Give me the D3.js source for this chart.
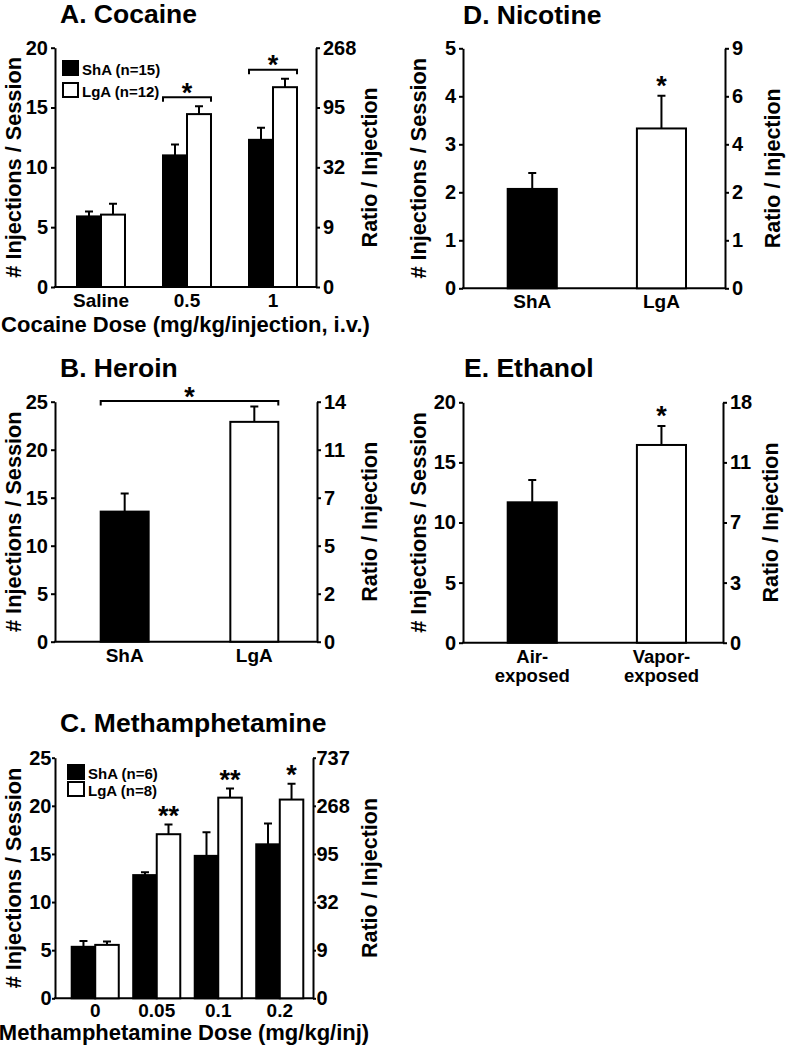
<!DOCTYPE html>
<html><head><meta charset="utf-8">
<script src="https://cdn.jsdelivr.net/npm/d3@7"></script>
<style>
body{margin:0;background:#fff;}
svg text{font-family:"Liberation Sans",Arial,Helvetica,sans-serif;font-weight:bold;fill:#000;}
</style></head><body>
<svg id="chart" width="792" height="1049"></svg>
<script>
// ---------- DATA ----------
// A. Cocaine
const cocaineDoses = ["Saline", "0.5", "1"];
const cocaineShA = [5.9, 11.0, 12.3];
const cocaineShAErr = [0.4, 0.9, 1.0];
const cocaineLgA = [6.05, 14.45, 16.7];
const cocaineLgAErr = [0.9, 0.65, 0.7];
const cocaineSig = ["", "*", "*"];
const cocaineTicks = [0, 5, 10, 15, 20];
const cocaineRatioTicks = ["0", "9", "32", "95", "268"];
const cocaineLegend = ["ShA (n=15)", "LgA (n=12)"];

// B. Heroin
const heroinGroups = ["ShA", "LgA"];
const heroinMeans = [13.55, 22.9];
const heroinErr = [1.9, 1.6];
const heroinSig = "*";
const heroinTicks = [0, 5, 10, 15, 20, 25];
const heroinRatioTicks = ["0", "2", "5", "7", "11", "14"];

// C. Methamphetamine
const methDoses = ["0", "0.05", "0.1", "0.2"];
const methShA = [5.35, 12.8, 14.8, 16.0];
const methShAErr = [0.6, 0.3, 2.45, 2.15];
const methLgA = [5.55, 17.05, 20.85, 20.65];
const methLgAErr = [0.35, 1.0, 0.95, 1.65];
const methSig = ["", "**", "**", "*"];
const methTicks = [0, 5, 10, 15, 20, 25];
const methRatioTicks = ["0", "9", "32", "95", "268", "737"];
const methLegend = ["ShA (n=6)", "LgA (n=8)"];

// D. Nicotine
const nicotineGroups = ["ShA", "LgA"];
const nicotineMeans = [2.07, 3.33];
const nicotineErr = [0.33, 0.68];
const nicotineSig = ["", "*"];
const nicotineTicks = [0, 1, 2, 3, 4, 5];
const nicotineRatioTicks = ["0", "1", "2", "4", "6", "9"];

// E. Ethanol
const ethanolGroups = ["Air-\nexposed", "Vapor-\nexposed"];
const ethanolMeans = [11.68, 16.45];
const ethanolErr = [1.85, 1.58];
const ethanolSig = ["", "*"];
const ethanolTicks = [0, 5, 10, 15, 20];
const ethanolRatioTicks = ["0", "3", "7", "11", "18"];

const groupFills = ["#000", "#fff"];

// ---------- DRAWING ----------
const svg = d3.select("#chart");
svg.append("rect").attr("width", 792).attr("height", 1049).attr("fill", "#fff");

const LW = 2;
const STAR_SIZE = "27px";
const STAR_DY = 15.5;

function drawPanel(p) {
  const g = svg.append("g");
  const y = d3.scaleLinear().domain([0, d3.max(p.ticks)]).range([p.yBot, p.yTop]);
  const xc = d3.scaleBand().domain(p.categories).range(p.barRange).paddingInner(p.padInner).paddingOuter(0);
  const xs = d3.scaleBand().domain(d3.range(p.series.length)).range([0, xc.bandwidth()]);
  const tSize = p.tickSize != null ? p.tickSize : 4;
  const tPad = p.tickPad != null ? p.tickPad : 3;

  // title
  g.append("text").attr("x", p.titleX).attr("y", p.titleY)
    .style("font-size", "26.5px").text(p.title);

  // left axis
  const la = g.append("g").attr("transform", `translate(${p.x0},0)`)
    .call(d3.axisLeft(y).tickValues(p.ticks).tickFormat(d3.format("d"))
      .tickSize(tSize).tickSizeOuter(0).tickPadding(tPad));
  // right axis
  const ra = g.append("g").attr("transform", `translate(${p.x1},0)`)
    .call(d3.axisRight(y).tickValues(p.ticks).tickFormat((d, i) => p.ratioTicks[i])
      .tickSize(tSize).tickSizeOuter(0).tickPadding(tPad));
  [la, ra].forEach(a => {
    a.select(".domain").attr("stroke", "#000").attr("stroke-width", LW);
    a.selectAll(".tick line").attr("stroke", "#000").attr("stroke-width", LW);
    a.selectAll("text").style("font-size", "20px").attr("fill", "#000");
  });

  // bottom baseline
  g.append("line").attr("x1", p.x0 - 1).attr("x2", p.x1 + 1)
    .attr("y1", y(0)).attr("y2", y(0))
    .attr("stroke", "#000").attr("stroke-width", LW);

  // category labels
  const ba = g.append("g").attr("transform", `translate(0,${y(0)})`)
    .call(d3.axisBottom(xc).tickSize(0).tickPadding(p.catPad));
  ba.select(".domain").remove();
  ba.selectAll("text").style("font-size", "19px").attr("fill", "#000");
  ba.selectAll(".tick").each(function (d) {
    const parts = d.split("\n");
    if (parts.length > 1) {
      const tk = d3.select(this);
      const t0 = tk.select("text");
      const baseY = +t0.attr("y") + 13.5;
      t0.remove();
      parts.forEach((s, k) => tk.append("text")
        .attr("x", 0).attr("y", baseY + k * p.lineGap)
        .attr("text-anchor", "middle").style("font-size", "18.5px").text(s));
    }
  });

  // bars + error bars
  p.series.forEach((s, si) => {
    const bx = (c) => xc(c) + xs(si);
    const fill = (c, i) => Array.isArray(s.fill) ? s.fill[i] : s.fill;
    g.selectAll(null).data(p.categories).enter().append("rect")
      .attr("x", c => bx(c)).attr("width", xs.bandwidth())
      .attr("y", (c, i) => y(s.values[i]))
      .attr("height", (c, i) => y(0) - y(s.values[i]))
      .attr("fill", fill).attr("stroke", "#000").attr("stroke-width", LW);
    g.selectAll(null).data(p.categories).enter().append("path")
      .attr("d", (c, i) => {
        const cx = bx(c) + xs.bandwidth() / 2;
        const t = y(s.values[i] + s.errs[i]), b = y(s.values[i]);
        return `M${cx},${b}V${t}M${cx - 4},${t}H${cx + 4}`;
      })
      .attr("fill", "none").attr("stroke", "#000").attr("stroke-width", LW);
  });

  // significance
  const topOf = (i) => d3.max(p.series, s => s.values[i] + s.errs[i]);
  const star = (x, cy, txt) => g.append("text").attr("x", x).attr("y", cy + STAR_DY)
    .attr("text-anchor", "middle").style("font-size", STAR_SIZE).text(txt);
  if (p.sigType === "pair") {
    p.categories.forEach((c, i) => {
      if (!p.sig[i]) return;
      const by = y(topOf(i)) - p.sigGap;
      const xa = xc(c), xb = xc(c) + xc.bandwidth();
      g.append("path").attr("d", `M${xa},${by + 4.5}V${by}H${xb}V${by + 4.5}`)
        .attr("fill", "none").attr("stroke", "#000").attr("stroke-width", LW);
      star((xa + xb) / 2, by - 11, p.sig[i]);
    });
  } else if (p.sigType === "all") {
    const by = y(d3.max(p.categories, (c, i) => topOf(i))) - p.sigGap;
    const xa = xc(p.categories[0]), xb = xc(p.categories[p.categories.length - 1]) + xc.bandwidth();
    g.append("path").attr("d", `M${xa},${by + 4.5}V${by}H${xb}V${by + 4.5}`)
      .attr("fill", "none").attr("stroke", "#000").attr("stroke-width", LW);
    star((xa + xb) / 2, by - 11, p.sig);
  } else if (p.sigType === "bar") {
    const si = p.series.length - 1, s = p.series[si];
    p.categories.forEach((c, i) => {
      if (!p.sig[i]) return;
      const cx = xc(c) + xs(si) + xs.bandwidth() / 2;
      star(cx, y(s.values[i] + s.errs[i]) - p.sigGap, p.sig[i]);
    });
  }

  // axis titles
  const midY = (p.yTop + p.yBot) / 2;
  g.append("text").attr("transform", `translate(${p.leftLabelX},${midY}) rotate(-90)`)
    .attr("text-anchor", "middle").style("font-size", "21.7px").text("# Injections / Session");
  g.append("text").attr("transform", `translate(${p.rightLabelX},${midY}) rotate(-90)`)
    .attr("text-anchor", "middle").style("font-size", "21.5px").text("Ratio / Injection");
  if (p.xTitle) {
    g.append("text").attr("x", (p.x0 + p.x1) / 2).attr("y", p.xTitleY)
      .attr("text-anchor", "middle").style("font-size", "22px").text(p.xTitle);
  }

  // legend
  if (p.legend) {
    p.series.forEach((s, si) => {
      const ly = p.legend.y + si * p.legend.dy;
      g.append("rect").attr("x", p.legend.x).attr("y", ly)
        .attr("width", p.legend.w).attr("height", p.legend.h)
        .attr("fill", s.fill).attr("stroke", "#000").attr("stroke-width", LW);
      g.append("text").attr("x", p.legend.x + p.legend.w + 4).attr("y", ly + p.legend.h)
        .style("font-size", "15px").text(p.legend.labels[si]);
    });
  }
}

// A. Cocaine
drawPanel({
  title: "A. Cocaine", titleX: 60, titleY: 23,
  x0: 55, x1: 316, yTop: 47.7, yBot: 287,
  ticks: cocaineTicks, ratioTicks: cocaineRatioTicks,
  categories: cocaineDoses, barRange: [77, 297], padInner: 0.442, catPad: 6.5,
  series: [
    { values: cocaineShA, errs: cocaineShAErr, fill: "#000" },
    { values: cocaineLgA, errs: cocaineLgAErr, fill: "#fff" }
  ],
  sigType: "pair", sig: cocaineSig, sigGap: 9,
  leftLabelX: 21, rightLabelX: 377,
  xTitle: "Cocaine Dose (mg/kg/injection, i.v.)", xTitleY: 332,
  legend: { x: 63, y: 61, dy: 22, w: 15, h: 14, labels: cocaineLegend }
});

// B. Heroin
drawPanel({
  title: "B. Heroin", titleX: 60, titleY: 377,
  x0: 55, x1: 317, yTop: 401.7, yBot: 641.7,
  ticks: heroinTicks, ratioTicks: heroinRatioTicks,
  categories: heroinGroups, barRange: [100.7, 278.3], padInner: 0.63, catPad: 6.5,
  series: [{ values: heroinMeans, errs: heroinErr, fill: groupFills }],
  sigType: "all", sig: heroinSig, sigGap: 5.5,
  leftLabelX: 21, rightLabelX: 377
});

// C. Methamphetamine
drawPanel({
  title: "C. Methamphetamine", titleX: 60, titleY: 732,
  x0: 55, x1: 313, yTop: 757.7, yBot: 998.3,
  ticks: methTicks, ratioTicks: methRatioTicks,
  categories: methDoses, barRange: [71.7, 303.3], padInner: 0.235, catPad: 5,
  tickSize: 3, tickPad: 0.5,
  series: [
    { values: methShA, errs: methShAErr, fill: "#000" },
    { values: methLgA, errs: methLgAErr, fill: "#fff" }
  ],
  sigType: "bar", sig: methSig, sigGap: 15,
  leftLabelX: 21, rightLabelX: 377,
  xTitle: "Methamphetamine Dose (mg/kg/inj)", xTitleY: 1040,
  legend: { x: 68, y: 765, dy: 17, w: 16, h: 14, labels: methLegend }
});

// D. Nicotine
drawPanel({
  title: "D. Nicotine", titleX: 463, titleY: 23.5,
  x0: 463, x1: 725, yTop: 48.3, yBot: 288.3,
  ticks: nicotineTicks, ratioTicks: nicotineRatioTicks,
  categories: nicotineGroups, barRange: [507.7, 686], padInner: 0.62, catPad: 6.5,
  series: [{ values: nicotineMeans, errs: nicotineErr, fill: groupFills }],
  sigType: "bar", sig: nicotineSig, sigGap: 16,
  leftLabelX: 426, rightLabelX: 780
});

// E. Ethanol
drawPanel({
  title: "E. Ethanol", titleX: 464, titleY: 377,
  x0: 463, x1: 723, yTop: 402.3, yBot: 642.7,
  ticks: ethanolTicks, ratioTicks: ethanolRatioTicks,
  categories: ethanolGroups, barRange: [507.7, 686], padInner: 0.62, catPad: 7,
  lineGap: 19,
  series: [{ values: ethanolMeans, errs: ethanolErr, fill: groupFills }],
  sigType: "bar", sig: ethanolSig, sigGap: 16,
  leftLabelX: 426, rightLabelX: 778
});
</script>
</body></html>
